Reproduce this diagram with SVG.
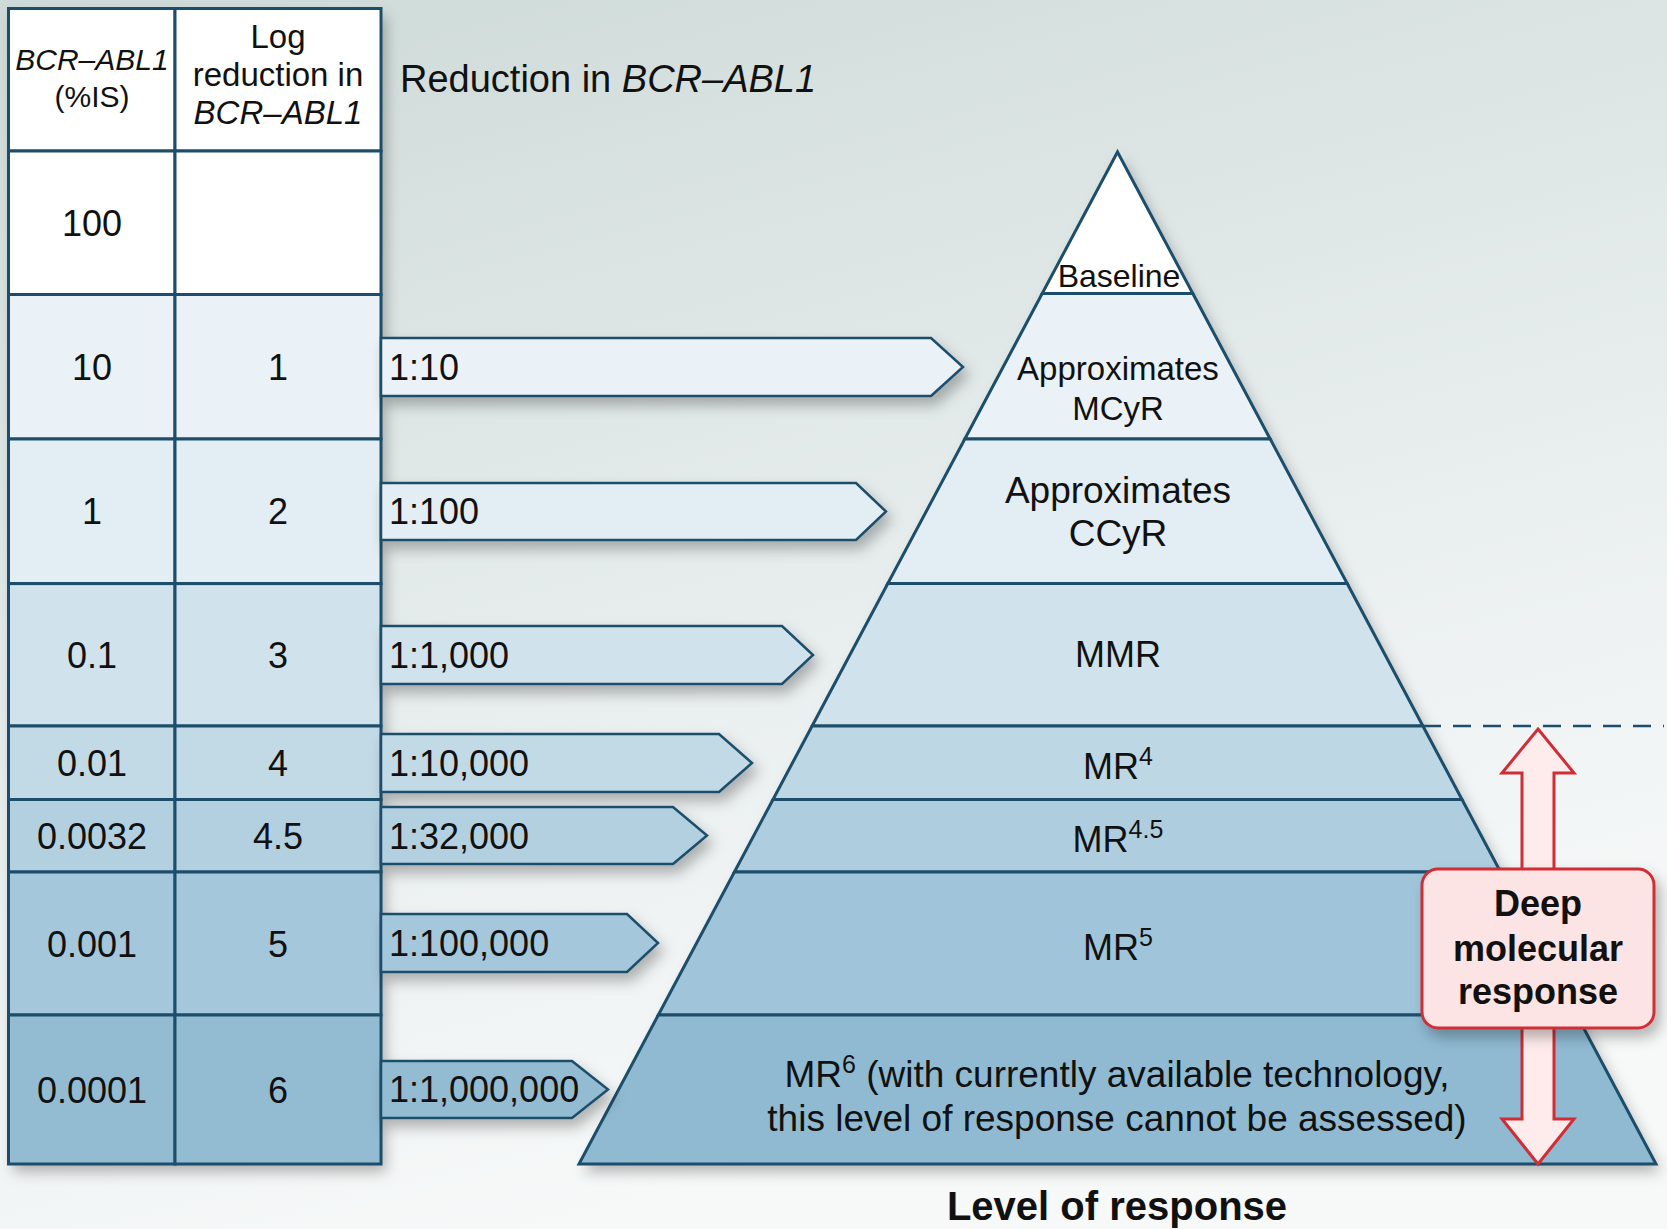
<svg xmlns="http://www.w3.org/2000/svg" width="1667" height="1229" viewBox="0 0 1667 1229">
<defs>
<linearGradient id="bg" x1="0" y1="0" x2="0.35" y2="1">
<stop offset="0" stop-color="#cddad7"/>
<stop offset="0.55" stop-color="#e6ecec"/>
<stop offset="1" stop-color="#f7f9f9"/>
</linearGradient>
<filter id="sh" x="-10%" y="-10%" width="130%" height="130%">
<feDropShadow dx="5" dy="8" stdDeviation="7" flood-color="#000" flood-opacity="0.28"/>
</filter>
<style>
.ln{stroke:#1c4e6b;stroke-width:3;}
.cell{stroke:#1c4e6b;stroke-width:3;}
.t{font-family:"Liberation Sans",Arial,sans-serif;fill:#111;}
.num{font-size:36px;text-anchor:middle;}
.hd{text-anchor:middle;}
.arr{stroke:#1c4e6b;stroke-width:2.5;stroke-linejoin:miter;}
.lbl{font-size:36px;}
.pl{text-anchor:middle;}
.red{stroke:#cf2e36;stroke-width:3;}
</style>
</defs>
<rect x="0" y="0" width="1667" height="1229" fill="url(#bg)"/>

<!-- table shadow -->
<rect x="8.5" y="8.5" width="372.5" height="1155.5" fill="#fff" filter="url(#sh)"/>

<g id="row-header">
<rect class="cell" x="8.5" y="8.5" width="166.5" height="142.5" fill="#ffffff"/>
<rect class="cell" x="175" y="8.5" width="206" height="142.5" fill="#ffffff"/>
<text class="t hd" x="92" y="70" font-size="30" font-style="italic">BCR–ABL1</text>
<text class="t hd" x="92" y="107" font-size="30">(%IS)</text>
<text class="t hd" x="278" y="48" font-size="33">Log</text>
<text class="t hd" x="278" y="86" font-size="33">reduction in</text>
<text class="t hd" x="278" y="124" font-size="33" font-style="italic">BCR–ABL1</text>
</g>
<g id="row-100">
<rect class="cell" x="8.5" y="151" width="166.5" height="143.5" fill="#ffffff"/>
<rect class="cell" x="175" y="151" width="206" height="143.5" fill="#ffffff"/>
<text class="t num" x="92" y="236">100</text>
</g>
<g id="row-10">
<rect class="cell" x="8.5" y="294.5" width="166.5" height="144.5" fill="#eaf2f7"/>
<rect class="cell" x="175" y="294.5" width="206" height="144.5" fill="#eaf2f7"/>
<text class="t num" x="92" y="380">10</text>
<text class="t num" x="278" y="380">1</text>
</g>
<g id="row-1">
<rect class="cell" x="8.5" y="439" width="166.5" height="144.6" fill="#e2edf4"/>
<rect class="cell" x="175" y="439" width="206" height="144.6" fill="#e2edf4"/>
<text class="t num" x="92" y="524">1</text>
<text class="t num" x="278" y="524">2</text>
</g>
<g id="row-0.1">
<rect class="cell" x="8.5" y="583.6" width="166.5" height="142.4" fill="#d0e2ec"/>
<rect class="cell" x="175" y="583.6" width="206" height="142.4" fill="#d0e2ec"/>
<text class="t num" x="92" y="668">0.1</text>
<text class="t num" x="278" y="668">3</text>
</g>
<g id="row-0.01">
<rect class="cell" x="8.5" y="726" width="166.5" height="73.5" fill="#c2d9e6"/>
<rect class="cell" x="175" y="726" width="206" height="73.5" fill="#c2d9e6"/>
<text class="t num" x="92" y="776">0.01</text>
<text class="t num" x="278" y="776">4</text>
</g>
<g id="row-0.0032">
<rect class="cell" x="8.5" y="799.5" width="166.5" height="72.5" fill="#b3d0e0"/>
<rect class="cell" x="175" y="799.5" width="206" height="72.5" fill="#b3d0e0"/>
<text class="t num" x="92" y="849">0.0032</text>
<text class="t num" x="278" y="849">4.5</text>
</g>
<g id="row-0.001">
<rect class="cell" x="8.5" y="872" width="166.5" height="143" fill="#a4c7db"/>
<rect class="cell" x="175" y="872" width="206" height="143" fill="#a4c7db"/>
<text class="t num" x="92" y="957">0.001</text>
<text class="t num" x="278" y="957">5</text>
</g>
<g id="row-0.0001">
<rect class="cell" x="8.5" y="1015" width="166.5" height="149" fill="#93bcd3"/>
<rect class="cell" x="175" y="1015" width="206" height="149" fill="#93bcd3"/>
<text class="t num" x="92" y="1103">0.0001</text>
<text class="t num" x="278" y="1103">6</text>
</g>

<text id="title" class="t" x="400" y="92" font-size="38">Reduction in <tspan font-style="italic">BCR–ABL1</tspan></text>

<!-- pyramid -->
<polygon points="1117.5,152 1656,1164 579,1164" fill="#fff" filter="url(#sh)"/>
<g id="level-baseline">
<polygon class="ln" points="1117.5,152 1192.8,293.5 1042.2,293.5" fill="#ffffff"/>
<text class="t pl" x="1119" y="287" font-size="32">Baseline</text>
</g>
<g id="level-mcyr">
<polygon class="ln" points="1042.2,293.5 1192.8,293.5 1270.2,439 964.8,439" fill="#eaf2f7"/>
<text class="t pl" x="1118" y="380" font-size="33">Approximates</text>
<text class="t pl" x="1118" y="420" font-size="33">MCyR</text>
</g>
<g id="level-ccyr">
<polygon class="ln" points="964.8,439 1270.2,439 1347.2,583.6 887.8,583.6" fill="#e2edf4"/>
<text class="t pl" x="1118" y="503" font-size="37">Approximates</text>
<text class="t pl" x="1118" y="546" font-size="37">CCyR</text>
</g>
<g id="level-mmr">
<polygon class="ln" points="887.8,583.6 1347.2,583.6 1422.9,726 812.1,726" fill="#d0e2ec"/>
<text class="t pl" x="1118" y="667" font-size="36">MMR</text>
</g>
<g id="level-mr4">
<polygon class="ln" points="812.1,726 1422.9,726 1462,799.5 773,799.5" fill="#bdd7e5"/>
<text class="t pl" x="1118" y="779" font-size="36">MR<tspan dy="-14" font-size="25">4</tspan></text>
</g>
<g id="level-mr45">
<polygon class="ln" points="773,799.5 1462,799.5 1500.6,872 734.4,872" fill="#aecee0"/>
<text class="t pl" x="1118" y="852" font-size="36">MR<tspan dy="-14" font-size="25">4.5</tspan></text>
</g>
<g id="level-mr5">
<polygon class="ln" points="734.4,872 1500.6,872 1576.7,1015 658.3,1015" fill="#a0c5da"/>
<text class="t pl" x="1118" y="960" font-size="36">MR<tspan dy="-14" font-size="25">5</tspan></text>
</g>
<g id="level-mr6">
<polygon class="ln" points="658.3,1015 1576.7,1015 1656,1164 579,1164" fill="#8fbad2"/>
<text class="t pl" x="1117" y="1087" font-size="37">MR<tspan dy="-14" font-size="25">6</tspan><tspan dy="14"> (with currently available technology,</tspan></text>
<text class="t pl" x="1117" y="1131" font-size="37">this level of response cannot be assessed)</text>
</g>

<g id="connectors">
<g filter="url(#sh)">
<polygon class="arr" points="381,338 931,338 963,367 931,396 381,396" fill="#eaf2f7"/>
<polygon class="arr" points="381,483 856,483 886,511.5 856,540 381,540" fill="#e2edf4"/>
<polygon class="arr" points="381,626 782,626 813,655 782,684 381,684" fill="#d0e2ec"/>
<polygon class="arr" points="381,734 719,734 752,763 719,792 381,792" fill="#c2d9e6"/>
<polygon class="arr" points="381,807 673,807 707,835.5 673,864 381,864" fill="#b3d0e0"/>
<polygon class="arr" points="381,914 627,914 658,943 627,972 381,972" fill="#a4c7db"/>
<polygon class="arr" points="381,1061 572,1061 608,1089.5 572,1118 381,1118" fill="#93bcd3"/>
</g>
<text class="t lbl" x="389" y="380">1:10</text>
<text class="t lbl" x="389" y="524">1:100</text>
<text class="t lbl" x="389" y="668">1:1,000</text>
<text class="t lbl" x="389" y="776">1:10,000</text>
<text class="t lbl" x="389" y="849">1:32,000</text>
<text class="t lbl" x="389" y="956">1:100,000</text>
<text class="t lbl" x="389" y="1102">1:1,000,000</text>
<line x1="1423" y1="726" x2="1664" y2="726" stroke="#1c4e6b" stroke-width="2.5" stroke-dasharray="18,12"/>
</g>

<g id="deep-molecular-response">
<polygon class="red" points="1538,729 1574,773 1554,773 1554,1119 1574,1119 1538,1164 1502,1119 1522,1119 1522,773 1502,773" fill="#fdeceb"/>
<rect class="red" x="1422" y="869" width="232" height="159" rx="16" fill="#fce4e4" filter="url(#sh)"/>
<text class="t pl" x="1538" y="916" font-size="36" font-weight="bold">Deep</text>
<text class="t pl" x="1538" y="961" font-size="36" font-weight="bold">molecular</text>
<text class="t pl" x="1538" y="1004" font-size="36" font-weight="bold">response</text>
</g>

<text id="axis-label" class="t pl" x="1117" y="1220" font-size="40" font-weight="bold">Level of response</text>
</svg>
